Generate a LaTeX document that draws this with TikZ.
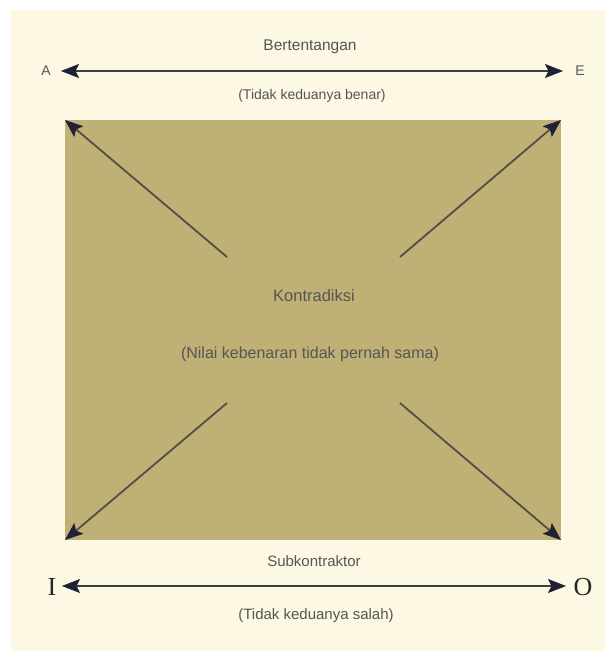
\documentclass[tikz,border=0pt]{standalone}
\usepackage{fontspec}
\setmainfont{Liberation Sans}
\newfontfamily\serifletter{Liberation Serif}
\usetikzlibrary{arrows.meta}
\definecolor{cream}{HTML}{FDF8E3}
\definecolor{khaki}{HTML}{BFB075}
\definecolor{txtgray}{HTML}{555555}
\definecolor{linegray}{HTML}{3E3E3E}
\definecolor{headnavy}{HTML}{1E2233}
\tikzset{
  headtip/.tip={Stealth[length=18pt,width=14pt,inset=3.5pt,color=headnavy,fill=headnavy,line width=0.6pt]}
}
\begin{document}
\begin{tikzpicture}[x=1pt,y=-1pt,
  lbl/.style={text=txtgray, inner sep=0pt, anchor=center},
  biarrow/.style={draw=linegray, line width=1.8pt, headtip-headtip},
  diagarrow/.style={draw=linegray!85!khaki, line width=1.8pt, -headtip},
  bigletter/.style={text=black!85, inner sep=0pt, font=\serifletter\fontsize{26}{26}\selectfont}]
\useasboundingbox (0,0) rectangle (605,651);
\fill[white] (0,0) rectangle (605,651);
\fill[cream] (11,10) rectangle (605,651);
\fill[khaki] (65,120) rectangle (561,540);
% corners
\coordinate (tl) at (65,120);
\coordinate (tr) at (561,120);
\coordinate (bl) at (65,540);
\coordinate (br) at (561,540);
\coordinate (ctl) at (227,257);
\coordinate (ctr) at (400,257);
\coordinate (cbl) at (227,403);
\coordinate (cbr) at (400,403);
% top
\node[lbl, font=\fontsize{15.5}{18}\selectfont] (bert) at (310,47) {Bertentangan};
\node[lbl, font=\fontsize{14}{16}\selectfont] (A) at (46,71) {A};
\node[lbl, font=\fontsize{14}{16}\selectfont] (E) at (580,71) {E};
\coordinate (ta) at (61,71);
\coordinate (te) at (563,71);
\draw[biarrow] (ta) -- (te);
\node[lbl, font=\fontsize{14}{16}\selectfont] (tkb) at (312,96) {(Tidak keduanya benar)};
% centre
\node[lbl, font=\fontsize{16.5}{19}\selectfont] (kon) at (314,296) {Kontradiksi};
\node[lbl, font=\fontsize{16}{19}\selectfont] (nilai) at (310,354) {(Nilai kebenaran tidak pernah sama)};
\draw[diagarrow] (ctl) -- (tl);
\draw[diagarrow] (ctr) -- (tr);
\draw[diagarrow] (cbl) -- (bl);
\draw[diagarrow] (cbr) -- (br);
% bottom
\node[lbl, font=\fontsize{15}{18}\selectfont] (sub) at (314,561) {Subkontraktor};
\node[bigletter] (I) at (52,587) {I};
\node[bigletter] (O) at (583,587) {O};
\coordinate (ia) at (62,586);
\coordinate (oa) at (566,586);
\draw[biarrow] (ia) -- (oa);
\node[lbl, font=\fontsize{15}{18}\selectfont] (tks) at (316,616) {(Tidak keduanya salah)};
\end{tikzpicture}
\end{document}
